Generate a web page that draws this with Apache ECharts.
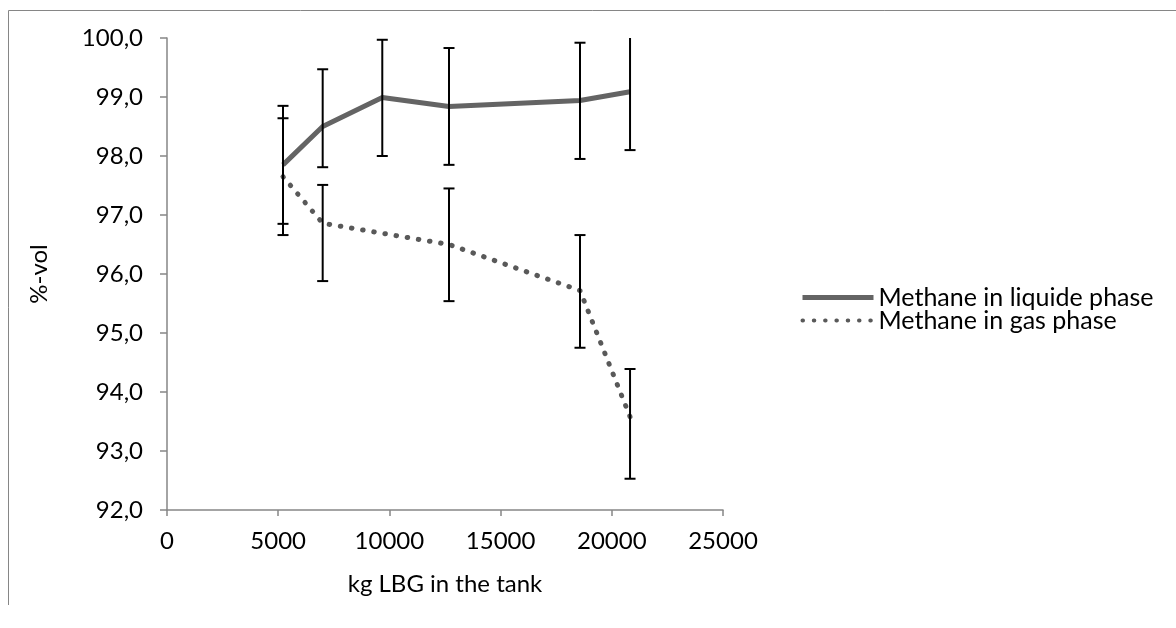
<!DOCTYPE html>
<html>
<head>
<meta charset="utf-8">
<script src="https://cdn.jsdelivr.net/npm/echarts@6/dist/echarts.min.js"></script>
<style>
  html, body { margin: 0; padding: 0; background: #fff; }
  #chart { width: 1176px; height: 628px; }
</style>
</head>
<body>
<div id="chart"></div>
<script>
// kg LBG in the tank (x) and %-vol methane (y)
const liquidX = [5216, 7000, 9680, 12680, 18570, 20820];
const liquidY = [97.85, 98.50, 98.99, 98.84, 98.94, 99.09];
const liquidLow = [96.85, 97.81, 98.00, 97.85, 97.95, 98.10];
const liquidHigh = [98.85, 99.47, 99.97, 99.83, 99.92, 100.08];

const gasX = [5216, 7000, 12680, 18570, 20820];
const gasY = [97.65, 96.86, 96.50, 95.72, 93.58];
const gasLow = [96.66, 95.88, 95.54, 94.75, 92.53];
const gasHigh = [98.64, 97.51, 97.45, 96.66, 94.39];

const seriesNames = ['Methane in liquide phase', 'Methane in gas phase'];
const xTicks = [0, 25000, 5000];
const yTicks = [92, 100, 1];

const FONT = 'Lato';
const FS = 24;
const axisGray = '#868686';

function pairs(xs, ys) {
  return xs.map((x, i) => [x, ys[i]]);
}
function bars(xs, lo, hi) {
  return xs.map((x, i) => [x, lo[i], hi[i]]);
}

// vertical error bar with caps
function renderErrorBar(params, api) {
  const x = api.value(0);
  const lo = api.coord([x, api.value(1)]);
  const hi = api.coord([x, api.value(2)]);
  const half = 5.5;
  const style = { stroke: '#000', lineWidth: 2 };
  return {
    type: 'group',
    children: [
      { type: 'line', shape: { x1: lo[0], y1: lo[1], x2: hi[0], y2: hi[1] }, style: style },
      { type: 'line', shape: { x1: lo[0] - half, y1: lo[1], x2: lo[0] + half, y2: lo[1] }, style: style },
      { type: 'line', shape: { x1: hi[0] - half, y1: hi[1], x2: hi[0] + half, y2: hi[1] }, style: style }
    ]
  };
}

const chart = echarts.init(document.getElementById('chart'), null, { renderer: 'canvas' });

chart.setOption({
  animation: false,
  backgroundColor: '#fff',
  textStyle: { fontFamily: FONT },
  graphic: [
    { type: 'line', shape: { x1: 8.5, y1: 10.5, x2: 1176, y2: 10.5 }, style: { stroke: axisGray, lineWidth: 1 } },
    { type: 'line', shape: { x1: 8.5, y1: 10.5, x2: 8.5, y2: 605 }, style: { stroke: axisGray, lineWidth: 1 } }
  ],
  grid: { left: 167, right: 453, top: 38, bottom: 118, containLabel: false },
  legend: {
    orient: 'vertical',
    left: 795,
    top: 280,
    itemWidth: 71,
    itemHeight: 14,
    itemGap: -2,
    itemStyle: { opacity: 0 },
    data: [
      { name: seriesNames[0], lineStyle: { width: 5 } },
      { name: seriesNames[1], lineStyle: { width: 4 } }
    ],
    textStyle: { fontFamily: FONT, fontSize: 25, lineHeight: 23, height: 23, color: '#000' }
  },
  xAxis: {
    type: 'value',
    min: xTicks[0],
    max: xTicks[1],
    interval: xTicks[2],
    name: 'kg LBG in the tank',
    nameLocation: 'middle',
    nameGap: 62,
    nameTextStyle: { fontFamily: FONT, fontSize: FS, color: '#000' },
    splitLine: { show: false },
    axisLine: { lineStyle: { color: axisGray, width: 1.5 } },
    axisTick: { inside: false, length: 6, lineStyle: { color: axisGray, width: 1.5 } },
    axisLabel: { fontFamily: FONT, fontSize: FS, color: '#000', margin: 19, formatter: v => String(v) }
  },
  yAxis: {
    type: 'value',
    min: yTicks[0],
    max: yTicks[1],
    interval: yTicks[2],
    name: '%-vol',
    nameLocation: 'middle',
    nameGap: 116,
    nameRotate: 90,
    nameTextStyle: { fontFamily: FONT, fontSize: FS, color: '#000' },
    splitLine: { show: false },
    axisLine: { show: true, lineStyle: { color: axisGray, width: 1.5 } },
    axisTick: { show: true, inside: false, length: 7, lineStyle: { color: axisGray, width: 1.5 } },
    axisLabel: {
      fontFamily: FONT, fontSize: FS, color: '#000', margin: 24,
      formatter: v => v.toFixed(1).replace('.', ',')
    }
  },
  series: [
    {
      name: seriesNames[0],
      type: 'line',
      data: pairs(liquidX, liquidY),
      symbol: 'none',
      z: 3,
      color: '#646464',
      lineStyle: { color: '#646464', width: 5 }
    },
    {
      name: seriesNames[1],
      type: 'line',
      data: pairs(gasX, gasY),
      symbol: 'none',
      z: 3,
      color: '#595959',
      lineStyle: { color: '#595959', width: 5, type: [0.5, 10.8], cap: 'round' }
    },
    {
      type: 'custom',
      name: 'liquidErr',
      data: bars(liquidX, liquidLow, liquidHigh),
      renderItem: renderErrorBar,
      encode: { x: 0, y: [1, 2] },
      clip: true,
      z: 4,
      silent: true
    },
    {
      type: 'custom',
      name: 'gasErr',
      data: bars(gasX, gasLow, gasHigh),
      renderItem: renderErrorBar,
      encode: { x: 0, y: [1, 2] },
      clip: true,
      z: 4,
      silent: true
    }
  ]
});
</script>
</body>
</html>
